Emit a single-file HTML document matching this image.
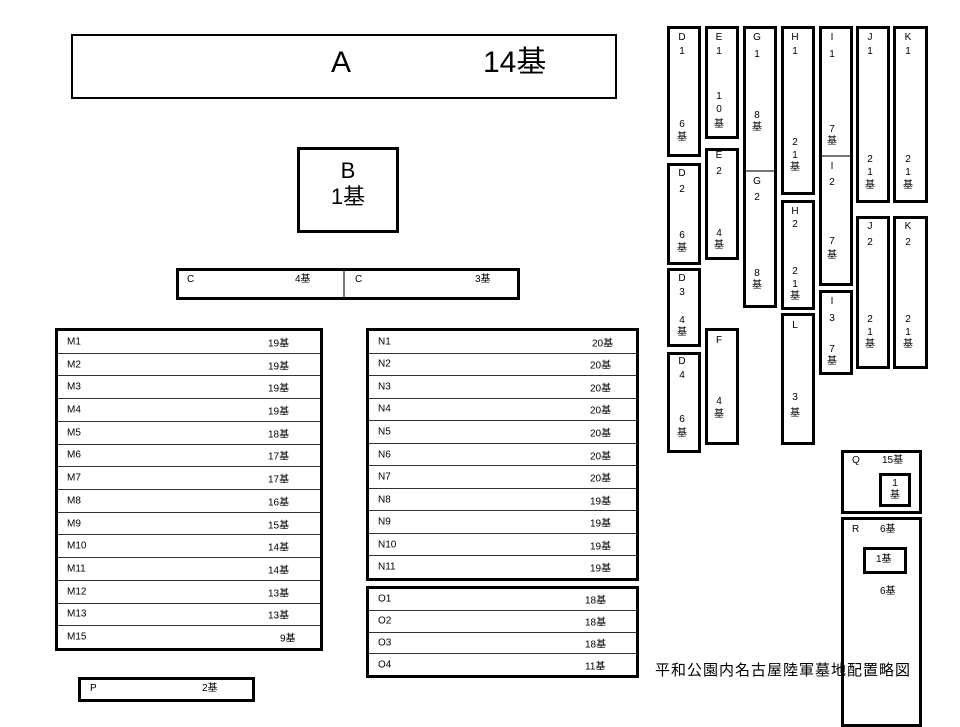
<!DOCTYPE html>
<html><head><meta charset="utf-8"><style>
*{margin:0;padding:0;box-sizing:border-box}
body{width:960px;height:720px;background:#fff;position:relative;overflow:hidden;font-family:"Liberation Sans","Noto Sans CJK JP",sans-serif;color:#000;font-size:10px}
.b{position:absolute;border:3px solid #000;background:#fff}
.t{position:absolute;white-space:nowrap;line-height:12px}
.v{position:absolute;width:14px;margin-left:-7px;text-align:center;line-height:12px;font-size:10px}
.rows{position:absolute;border:3px solid #000;display:flex;flex-direction:column}
.rows div{flex:1;border-top:1.5px solid #333;position:relative}
.rows div:first-child{border-top:none}
.rows span{position:absolute;top:50%;transform:translateY(-50%)}
.hl{position:absolute;height:2px;background:#777}
</style></head><body>
<div class="b" style="left:71px;top:34px;width:546px;height:65px;border-width:2px"></div>
<div class="t" style="left:331px;top:46px;font-size:30px;line-height:34px">A</div>
<div class="t" style="left:483px;top:46px;font-size:30px;line-height:34px">14基</div>
<div class="b" style="left:297px;top:147px;width:102px;height:86px"></div>
<div class="t" style="left:297px;width:102px;text-align:center;top:158px;font-size:22px;line-height:26px">B<br>1基</div>

<div class="b" style="left:176px;top:268px;width:344px;height:32px"></div>
<div class="hl" style="left:343px;top:271px;width:2px;height:26px"></div>
<div class="t" style="left:187px;top:274px">C</div><div class="t" style="left:295px;top:274px">4基</div>
<div class="t" style="left:355px;top:274px">C</div><div class="t" style="left:475px;top:274px">3基</div>

<div class="rows" style="left:55px;top:328px;width:268px;height:323px">
<div><span style="left:9px">M1</span><span style="left:210px">19基</span></div>
<div><span style="left:9px">M2</span><span style="left:210px">19基</span></div>
<div><span style="left:9px">M3</span><span style="left:210px">19基</span></div>
<div><span style="left:9px">M4</span><span style="left:210px">19基</span></div>
<div><span style="left:9px">M5</span><span style="left:210px">18基</span></div>
<div><span style="left:9px">M6</span><span style="left:210px">17基</span></div>
<div><span style="left:9px">M7</span><span style="left:210px">17基</span></div>
<div><span style="left:9px">M8</span><span style="left:210px">16基</span></div>
<div><span style="left:9px">M9</span><span style="left:210px">15基</span></div>
<div><span style="left:9px">M10</span><span style="left:210px">14基</span></div>
<div><span style="left:9px">M11</span><span style="left:210px">14基</span></div>
<div><span style="left:9px">M12</span><span style="left:210px">13基</span></div>
<div><span style="left:9px">M13</span><span style="left:210px">13基</span></div>
<div><span style="left:9px">M15</span><span style="left:222px">9基</span></div>
</div>

<div class="rows" style="left:366px;top:328px;width:273px;height:253px">
<div><span style="left:9px">N1</span><span style="left:223px">20基</span></div>
<div><span style="left:9px">N2</span><span style="left:221px">20基</span></div>
<div><span style="left:9px">N3</span><span style="left:221px">20基</span></div>
<div><span style="left:9px">N4</span><span style="left:221px">20基</span></div>
<div><span style="left:9px">N5</span><span style="left:221px">20基</span></div>
<div><span style="left:9px">N6</span><span style="left:221px">20基</span></div>
<div><span style="left:9px">N7</span><span style="left:221px">20基</span></div>
<div><span style="left:9px">N8</span><span style="left:221px">19基</span></div>
<div><span style="left:9px">N9</span><span style="left:221px">19基</span></div>
<div><span style="left:9px">N10</span><span style="left:221px">19基</span></div>
<div><span style="left:9px">N11</span><span style="left:221px">19基</span></div>
</div>

<div class="rows" style="left:366px;top:586px;width:273px;height:92px">
<div><span style="left:9px">O1</span><span style="left:216px">18基</span></div>
<div><span style="left:9px">O2</span><span style="left:216px">18基</span></div>
<div><span style="left:9px">O3</span><span style="left:216px">18基</span></div>
<div><span style="left:9px">O4</span><span style="left:216px">11基</span></div>
</div>

<div class="b" style="left:78px;top:677px;width:177px;height:25px"></div>
<div class="t" style="left:90px;top:683px">P</div><div class="t" style="left:202px;top:683px">2基</div>

<!-- vertical boxes -->
<div class="b" style="left:667px;top:26px;width:34px;height:131px"></div>
<div class="b" style="left:667px;top:163px;width:34px;height:102px"></div>
<div class="b" style="left:667px;top:268px;width:34px;height:79px"></div>
<div class="b" style="left:667px;top:352px;width:34px;height:101px"></div>
<div class="b" style="left:705px;top:26px;width:34px;height:113px"></div>
<div class="b" style="left:705px;top:148px;width:34px;height:112px"></div>
<div class="b" style="left:705px;top:328px;width:34px;height:117px"></div>
<div class="b" style="left:743px;top:26px;width:34px;height:282px"></div>
<div class="hl" style="left:746px;top:170px;width:28px"></div>
<div class="b" style="left:781px;top:26px;width:34px;height:169px"></div>
<div class="b" style="left:781px;top:200px;width:34px;height:110px"></div>
<div class="b" style="left:781px;top:313px;width:34px;height:132px"></div>
<div class="b" style="left:819px;top:26px;width:34px;height:260px"></div>
<div class="hl" style="left:822px;top:155px;width:28px"></div>
<div class="b" style="left:819px;top:290px;width:34px;height:85px"></div>
<div class="b" style="left:856px;top:26px;width:34px;height:177px"></div>
<div class="b" style="left:856px;top:216px;width:34px;height:153px"></div>
<div class="b" style="left:893px;top:26px;width:35px;height:177px"></div>
<div class="b" style="left:893px;top:216px;width:35px;height:153px"></div>

<span class="v" style="left:682px;top:32px">D</span><span class="v" style="left:682px;top:46px">1</span><span class="v" style="left:682px;top:119px">6</span><span class="v" style="left:682px;top:132px">基</span>
<span class="v" style="left:682px;top:168px">D</span><span class="v" style="left:682px;top:184px">2</span><span class="v" style="left:682px;top:230px">6</span><span class="v" style="left:682px;top:243px">基</span>
<span class="v" style="left:682px;top:273px">D</span><span class="v" style="left:682px;top:287px">3</span><span class="v" style="left:682px;top:315px">4</span><span class="v" style="left:682px;top:327px">基</span>
<span class="v" style="left:682px;top:356px">D</span><span class="v" style="left:682px;top:370px">4</span><span class="v" style="left:682px;top:414px">6</span><span class="v" style="left:682px;top:428px">基</span>
<span class="v" style="left:719px;top:32px">E</span><span class="v" style="left:719px;top:46px">1</span><span class="v" style="left:719px;top:91px">1</span><span class="v" style="left:719px;top:104px">0</span><span class="v" style="left:719px;top:119px">基</span>
<span class="v" style="left:719px;top:150px">E</span><span class="v" style="left:719px;top:166px">2</span><span class="v" style="left:719px;top:228px">4</span><span class="v" style="left:719px;top:240px">基</span>
<span class="v" style="left:719px;top:335px">F</span><span class="v" style="left:719px;top:396px">4</span><span class="v" style="left:719px;top:409px">基</span>
<span class="v" style="left:757px;top:32px">G</span><span class="v" style="left:757px;top:49px">1</span><span class="v" style="left:757px;top:110px">8</span><span class="v" style="left:757px;top:122px">基</span>
<span class="v" style="left:757px;top:176px">G</span><span class="v" style="left:757px;top:192px">2</span><span class="v" style="left:757px;top:268px">8</span><span class="v" style="left:757px;top:280px">基</span>
<span class="v" style="left:795px;top:32px">H</span><span class="v" style="left:795px;top:46px">1</span><span class="v" style="left:795px;top:137px">2</span><span class="v" style="left:795px;top:150px">1</span><span class="v" style="left:795px;top:162px">基</span>
<span class="v" style="left:795px;top:206px">H</span><span class="v" style="left:795px;top:219px">2</span><span class="v" style="left:795px;top:266px">2</span><span class="v" style="left:795px;top:279px">1</span><span class="v" style="left:795px;top:291px">基</span>
<span class="v" style="left:795px;top:320px">L</span><span class="v" style="left:795px;top:392px">3</span><span class="v" style="left:795px;top:408px">基</span>
<span class="v" style="left:832px;top:32px">I</span><span class="v" style="left:832px;top:49px">1</span><span class="v" style="left:832px;top:124px">7</span><span class="v" style="left:832px;top:136px">基</span>
<span class="v" style="left:832px;top:161px">I</span><span class="v" style="left:832px;top:177px">2</span><span class="v" style="left:832px;top:236px">7</span><span class="v" style="left:832px;top:250px">基</span>
<span class="v" style="left:832px;top:296px">I</span><span class="v" style="left:832px;top:313px">3</span><span class="v" style="left:832px;top:344px">7</span><span class="v" style="left:832px;top:356px">基</span>
<span class="v" style="left:870px;top:32px">J</span><span class="v" style="left:870px;top:46px">1</span><span class="v" style="left:870px;top:154px">2</span><span class="v" style="left:870px;top:167px">1</span><span class="v" style="left:870px;top:180px">基</span>
<span class="v" style="left:870px;top:221px">J</span><span class="v" style="left:870px;top:237px">2</span><span class="v" style="left:870px;top:314px">2</span><span class="v" style="left:870px;top:327px">1</span><span class="v" style="left:870px;top:339px">基</span>
<span class="v" style="left:908px;top:32px">K</span><span class="v" style="left:908px;top:46px">1</span><span class="v" style="left:908px;top:154px">2</span><span class="v" style="left:908px;top:167px">1</span><span class="v" style="left:908px;top:180px">基</span>
<span class="v" style="left:908px;top:221px">K</span><span class="v" style="left:908px;top:237px">2</span><span class="v" style="left:908px;top:314px">2</span><span class="v" style="left:908px;top:327px">1</span><span class="v" style="left:908px;top:339px">基</span>

<!-- Q / R -->
<div class="b" style="left:841px;top:450px;width:81px;height:64px"></div>
<div class="t" style="left:852px;top:455px">Q</div><div class="t" style="left:882px;top:455px">15基</div>
<div class="b" style="left:879px;top:473px;width:32px;height:34px"></div>
<span class="v" style="left:895px;top:478px">1</span><span class="v" style="left:895px;top:490px">基</span>
<div class="b" style="left:841px;top:517px;width:81px;height:210px"></div>
<div class="t" style="left:852px;top:524px">R</div><div class="t" style="left:880px;top:524px">6基</div>
<div class="b" style="left:863px;top:547px;width:44px;height:27px"></div>
<div class="t" style="left:876px;top:554px">1基</div>
<div class="t" style="left:880px;top:586px">6基</div>

<div class="t" style="left:655px;top:662px;font-size:15px;line-height:18px;letter-spacing:1px">平和公園内名古屋陸軍墓地配置略図</div>
</body></html>
